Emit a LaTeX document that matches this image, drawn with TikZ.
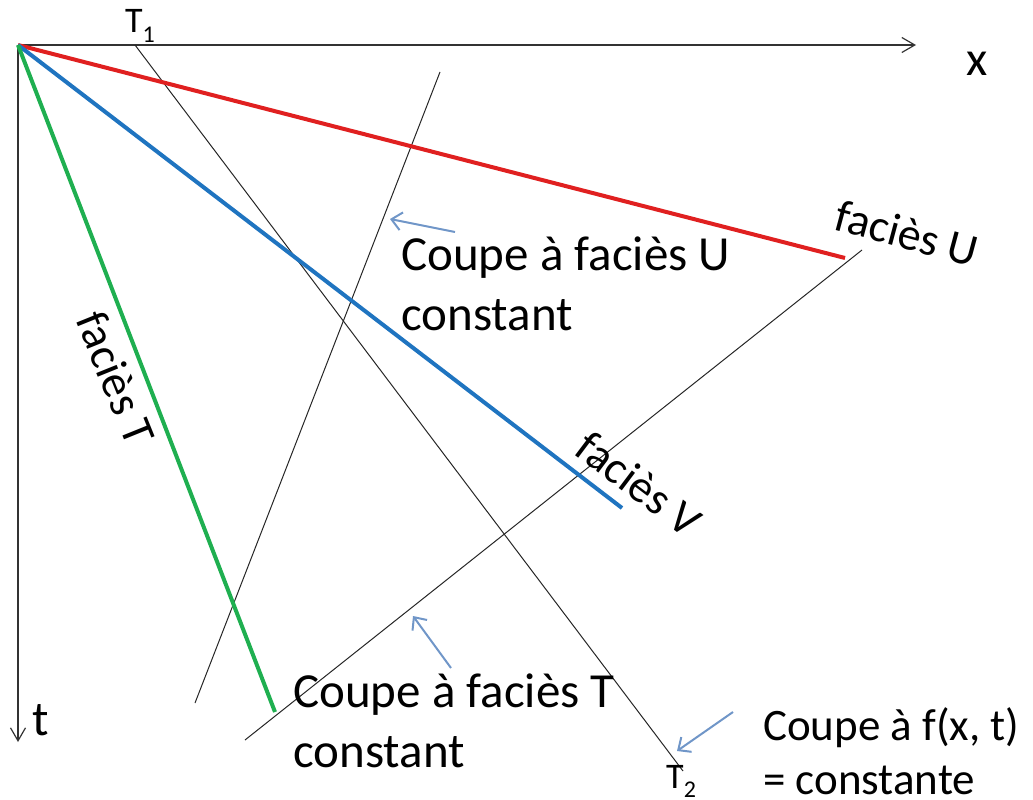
\documentclass[tikz,border=0pt]{standalone}
\usepackage{fontspec}
\setmainfont{Carlito}
\usetikzlibrary{arrows.meta}
\definecolor{ured}{HTML}{E02020}
\definecolor{vblue}{HTML}{1F74C0}
\definecolor{tgreen}{HTML}{1FAF50}
\definecolor{hintblue}{HTML}{7096C8}
\tikzset{
  axis/.style={draw=black!80, line width=1.2pt, -{Straight Barb[length=13pt,width=15pt]}},
  facies/.style={line width=4pt},
  cut/.style={draw=black!85, line width=1pt},
  hint/.style={draw=hintblue, line width=2pt, -{Straight Barb[length=10pt,width=18pt]}},
  big/.style={font=\fontsize{49}{60}\selectfont, inner sep=0pt},
  small/.style={font=\fontsize{45}{54}\selectfont, inner sep=0pt},
  rlab/.style={font=\fontsize{46}{55}\selectfont, inner sep=0pt},
  tlab/.style={font=\fontsize{36}{40}\selectfont, inner sep=0pt, anchor=base west},
}
\newcommand{\twolines}[2]{\vtop{\hbox{#1}\hbox{#2}}}
\begin{document}
\begin{tikzpicture}[x=1pt,y=-1pt]
\useasboundingbox (0,0) rectangle (1033,800);
% coordinates
\coordinate (O) at (18,45);
\coordinate (xend) at (916,45);
\coordinate (tend) at (18,742);
\coordinate (Uend) at (845,258);
\coordinate (Vend) at (622,508);
\coordinate (Tend) at (275,712);
\coordinate (T1p) at (135,45);
\coordinate (T2p) at (683,771);
\coordinate (A1) at (195,703);
\coordinate (A2) at (440,72);
\coordinate (B1) at (245,740);
\coordinate (B2) at (862,250);
% hint arrow ends
\coordinate (h1s) at (455,232); \coordinate (h1e) at (390,219);
\coordinate (h2s) at (451,668); \coordinate (h2e) at (413,616);
\coordinate (h3s) at (733,712); \coordinate (h3e) at (677,751);
% axes
\draw[axis] (O) -- (xend);
\draw[axis] (O) -- (tend);
% cuts
\draw[cut] (T1p) -- (T2p);
\draw[cut] (A1) -- (A2);
\draw[cut] (B1) -- (B2);
% facies lines
\draw[facies, ured] (O) -- (Uend);
\draw[facies, vblue] (O) -- (Vend);
\draw[facies, tgreen] (O) -- (Tend);
% hint arrows
\draw[hint] (h1s) -- (h1e);
\draw[hint] (h2s) -- (h2e);
\draw[hint] (h3s) -- (h3e);
% labels
\node[big, anchor=base west] (xlab) at (966,75) {x};
\node[big, anchor=base west] (tlab) at (32,735) {t};
\node[tlab] (T1) at (125,33) {T{\fontsize{24}{24}\selectfont\raisebox{-10pt}{1}}};
\node[tlab] (T2) at (666,788) {T{\fontsize{24}{24}\selectfont\raisebox{-9pt}{2}}};
\node[rlab, rotate=-15] (fU) at (907,233) {faciès U};
\node[rlab, rotate=-37] (fV) at (639,484) {faciès V};
\node[rlab, rotate=-68] (fT) at (116,378) {faciès T};
\node[big, anchor=base west] (cU) at (401,270) {\twolines{Coupe à faciès U}{constant}};
\node[big, anchor=base west] (cT) at (293,707) {\twolines{Coupe à faciès T}{constant}};
\node[small, anchor=base west] (cF) at (763,740) {\twolines{Coupe à f(x, t)}{= constante}};
\end{tikzpicture}
\end{document}
